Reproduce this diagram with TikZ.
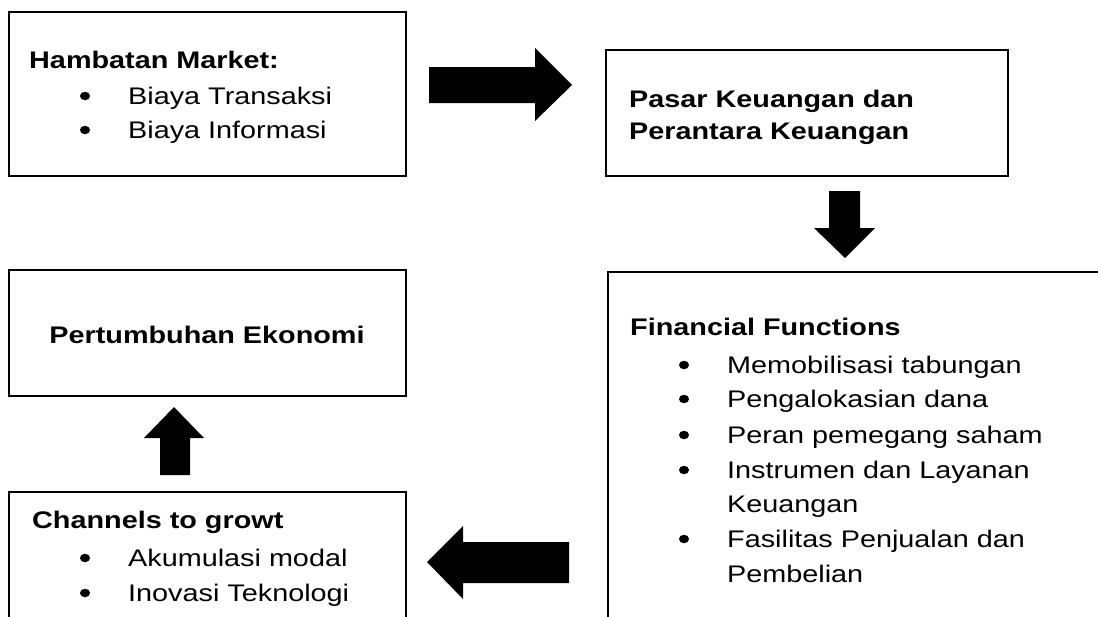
\documentclass[tikz,border=0pt]{standalone}
\usepackage{fontspec}
\setmainfont[FakeStretch=1.2]{Liberation Sans}
\usetikzlibrary{shapes.geometric}
\begin{document}
\begin{tikzpicture}[x=1pt,y=-1pt,
  box/.style={draw,line width=2pt,inner sep=0pt,outer sep=0pt},
  txt/.style={anchor=base west,inner sep=0pt,font=\fontsize{24}{30}\selectfont},
  hd/.style={anchor=base west,inner sep=0pt,font=\fontsize{24}{30}\selectfont\bfseries},
  bul/.style={ellipse,fill=black,inner sep=0pt,minimum width=10pt,minimum height=8.5pt},
  blk/.style={fill=black}]
\useasboundingbox (0,0) rectangle (1098,616);
\clip (0,0) rectangle (1098,616);
% boxes
\node[box,minimum width=397pt,minimum height=164pt] (b1) at (207.5,94) {};
\node[box,minimum width=402pt,minimum height=126pt] (b2) at (807,113) {};
\node[box,minimum width=502pt,minimum height=368pt] (b3) at (859,456) {};
\node[box,minimum width=397pt,minimum height=126pt] (b4) at (207.5,333) {};
\node[box,minimum width=397pt,minimum height=148pt] (b5) at (207.5,566) {};
% box 1 text
\node[hd] (t1) at (29,68) {Hambatan Market:};
\node[bul] (p11) at (85,96) {};
\node[txt] (t11) at (128,104) {Biaya Transaksi};
\node[bul] (p12) at (85,130) {};
\node[txt] (t12) at (128,138) {Biaya Informasi};
% box 2 text
\node[hd] (t2) at (629,107) {Pasar Keuangan dan};
\node[hd] (t2b) at (629,139) {Perantara Keuangan};
% box 3 text
\node[hd] (t3) at (630,335) {Financial Functions};
\node[bul] (p31) at (684,365) {};
\node[txt] (t31) at (727,373) {Memobilisasi tabungan};
\node[bul] (p32) at (684,399) {};
\node[txt] (t32) at (727,407) {Pengalokasian dana};
\node[bul] (p33) at (684,435) {};
\node[txt] (t33) at (727,443) {Peran pemegang saham};
\node[bul] (p34) at (684,470) {};
\node[txt] (t34) at (727,478) {Instrumen dan Layanan};
\node[txt] (t34b) at (727,512) {Keuangan};
\node[bul] (p35) at (684,539) {};
\node[txt] (t35) at (727,547) {Fasilitas Penjualan dan};
\node[txt] (t35b) at (727,582) {Pembelian};
% box 4 text
\node[anchor=base,inner sep=0pt,font=\fontsize{24}{30}\selectfont\bfseries] (t4) at (207,343) {Pertumbuhan Ekonomi};
% box 5 text
\node[hd] (t5) at (32,528) {Channels to growt};
\node[bul] (p51) at (85,558) {};
\node[txt] (t51) at (128,566) {Akumulasi modal};
\node[bul] (p52) at (85,593) {};
\node[txt] (t52) at (128,601) {Inovasi Teknologi};
% block arrows
\fill[blk] (429,67) -- (535,67) -- (535,48) -- (572,85) -- (535,121) -- (535,103) -- (429,103) -- cycle;
\fill[blk] (829,191) -- (860,191) -- (860,228) -- (875,228) -- (845,258) -- (814,228) -- (829,228) -- cycle;
\fill[blk] (569,542) -- (463,542) -- (463,526) -- (427,562) -- (463,599) -- (463,583) -- (569,583) -- cycle;
\fill[blk] (160,475) -- (160,438) -- (144,438) -- (174,407) -- (204,438) -- (190,438) -- (190,475) -- cycle;
\end{tikzpicture}
\end{document}
